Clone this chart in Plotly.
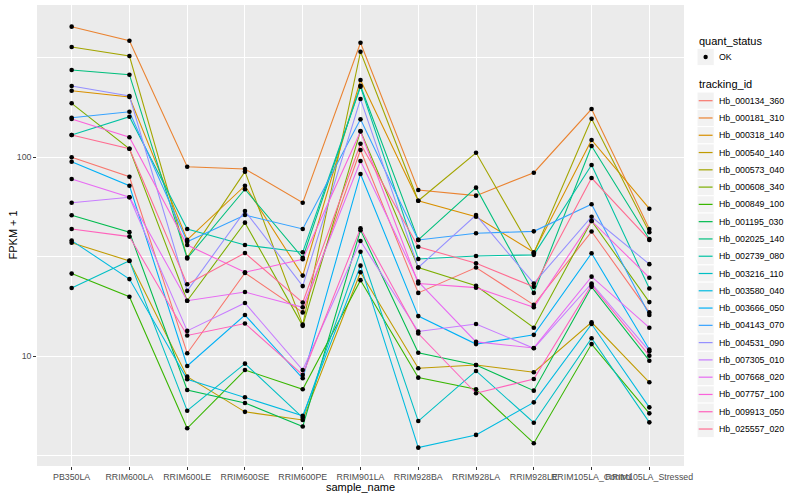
import plotly.graph_objects as go

samples = ["PB350LA", "RRIM600LA", "RRIM600LE", "RRIM600SE", "RRIM600PE", "RRIM901LA",
           "RRIM928BA", "RRIM928LA", "RRIM928LE", "RRIM105LA_Control", "RRIM105LA_Stressed"]

tracking_ids = ["Hb_000134_360", "Hb_000181_310", "Hb_000318_140", "Hb_000540_140", "Hb_000573_040",
                "Hb_000608_340", "Hb_000849_100", "Hb_001195_030", "Hb_002025_140", "Hb_002739_080",
                "Hb_003216_110", "Hb_003580_040", "Hb_003666_050", "Hb_004143_070", "Hb_004531_090",
                "Hb_007305_010", "Hb_007668_020", "Hb_007757_100", "Hb_009913_050", "Hb_025557_020"]

hue_colors = ["#F8766D", "#EA8331", "#D89000", "#C09B00", "#A3A500", "#7CAE00", "#39B600", "#00BB4E",
              "#00BF7D", "#00C1A3", "#00BFC4", "#00BAE0", "#00B0F6", "#35A2FF", "#9590FF", "#C77CFF",
              "#E76BF3", "#FA62DB", "#FF62BC", "#FF6C91"]

# FPKM + 1 values, one list per tracking_id (order = samples)
hb_000134_360 = [100.0, 79.8, 10.35, 26.2, 16.6, 108.7, 20.8, 27.9, 18.1, 42.3, 16.6]
hb_000181_310 = [453, 385, 89.5, 87.3, 59.0, 376, 68.4, 64.1, 83.6, 174.6, 43.6]
hb_000318_140 = [215.8, 200.7, 38.4, 71.9, 25.4, 244.3, 60.4, 50.2, 33.3, 122.0, 55.1]
hb_000540_140 = [37.2, 30.1, 7.89, 5.25, 4.78, 26.4, 8.69, 9.03, 8.30, 14.8, 7.39]
hb_000573_040 = [358, 322.5, 31.3, 84.6, 14.4, 338.8, 60.4, 105.3, 32.9, 156.1, 42.0]
hb_000608_340 = [186.6, 110.3, 19.0, 46.9, 14.2, 135.5, 27.9, 22.6, 13.9, 47.8, 18.7]
hb_000849_100 = [26.0, 19.9, 4.34, 8.52, 6.82, 24.1, 7.80, 6.82, 3.65, 11.5, 5.16]
hb_001195_030 = [51.1, 42.0, 6.76, 5.82, 4.43, 43.0, 10.4, 9.03, 6.71, 22.3, 9.49]
hb_002025_140 = [274.2, 259.8, 31.0, 69.0, 31.2, 228.6, 38.4, 70.3, 20.8, 113.8, 38.8]
hb_002739_080 = [129.3, 159.8, 43.6, 36.2, 33.3, 226.0, 30.8, 31.9, 32.3, 91.4, 21.9]
hb_003216_110 = [22.0, 30.2, 5.32, 9.17, 4.91, 33.5, 4.72, 8.43, 4.63, 12.3, 4.65]
hb_003580_040 = [38.1, 24.4, 7.65, 6.22, 5.02, 28.5, 3.47, 4.02, 5.86, 14.5, 5.53]
hb_003666_050 = [94.9, 71.9, 8.93, 16.1, 7.74, 82.4, 15.9, 11.5, 12.8, 32.9, 10.8]
hb_004143_070 = [157.9, 169.3, 37.6, 51.2, 43.6, 155.0, 38.4, 41.5, 42.4, 58.0, 16.1]
hb_004531_090 = [227.9, 203.0, 21.3, 53.7, 22.5, 196.0, 27.9, 51.2, 23.2, 50.2, 29.0]
hb_007305_010 = [59.0, 62.9, 13.4, 18.5, 8.52, 37.9, 13.3, 14.5, 10.96, 23.2, 10.6]
hb_007668_020 = [77.7, 62.9, 19.0, 21.0, 17.6, 95.7, 23.7, 11.8, 11.0, 25.1, 13.9]
hb_007757_100 = [155.6, 125.9, 36.2, 26.4, 30.7, 134.6, 23.2, 22.1, 17.6, 47.8, 24.8]
hb_009913_050 = [43.6, 39.9, 12.7, 14.6, 8.05, 43.9, 13.0, 6.51, 7.68, 22.8, 10.06]
hb_025557_020 = [129.3, 110.3, 23.0, 33.0, 18.6, 116.9, 35.5, 29.3, 22.3, 78.6, 38.4]

series_values = [hb_000134_360, hb_000181_310, hb_000318_140, hb_000540_140, hb_000573_040,
                 hb_000608_340, hb_000849_100, hb_001195_030, hb_002025_140, hb_002739_080,
                 hb_003216_110, hb_003580_040, hb_003666_050, hb_004143_070, hb_004531_090,
                 hb_007305_010, hb_007668_020, hb_007757_100, hb_009913_050, hb_025557_020]

y_tick_vals = [10, 100]
y_tick_text = ["10", "100"]
y_minor_vals = [10 ** 0.5, 10 ** 1.5, 10 ** 2.5]

FONT = "Liberation Sans, Arial, Helvetica, sans-serif"

fig = go.Figure()
for name, col, vals in zip(tracking_ids, hue_colors, series_values):
    fig.add_trace(go.Scatter(x=samples, y=vals, mode="lines", name=name,
                             line=dict(color=col, width=1.07), showlegend=False))
for name, vals in zip(tracking_ids, series_values):
    fig.add_trace(go.Scatter(x=samples, y=vals, mode="markers", name=name,
                             marker=dict(color="black", size=4.6), showlegend=False))

# panel in pixels
PL, PR, PT, PB = 37, 684, 5, 466


def px(x):
    return (x - PL) / (PR - PL)


def py(y):
    return (PB - y) / (PB - PT)


shapes = []
annotations = []
KEY = 17.28
KX0 = 697


def key_box(cy):
    shapes.append(dict(type="rect", xref="paper", yref="paper",
                       x0=px(KX0), x1=px(KX0 + KEY), y0=py(cy + KEY / 2), y1=py(cy - KEY / 2),
                       fillcolor="#F2F2F2", line=dict(color="white", width=1)))


annotations.append(dict(x=px(KX0), y=py(40.7), xref="paper", yref="paper", text="quant_status",
                        showarrow=False, xanchor="left", yanchor="middle",
                        font=dict(size=11, color="black", family=FONT)))
ok_cy = 57.0
key_box(ok_cy)
shapes.append(dict(type="circle", xref="paper", yref="paper",
                   x0=px(KX0 + KEY / 2 - 2.2), x1=px(KX0 + KEY / 2 + 2.2),
                   y0=py(ok_cy + 2.2), y1=py(ok_cy - 2.2),
                   fillcolor="black", line=dict(color="black", width=0)))
annotations.append(dict(x=px(717), y=py(ok_cy), xref="paper", yref="paper", text="OK",
                        showarrow=False, xanchor="left", yanchor="middle",
                        font=dict(size=8.8, color="black", family=FONT)))

annotations.append(dict(x=px(KX0), y=py(84), xref="paper", yref="paper", text="tracking_id",
                        showarrow=False, xanchor="left", yanchor="middle",
                        font=dict(size=11, color="black", family=FONT)))
first_cy = 100.7
step = 17.28
for i, (name, col) in enumerate(zip(tracking_ids, hue_colors)):
    cy = first_cy + i * step
    key_box(cy)
    shapes.append(dict(type="line", xref="paper", yref="paper",
                       x0=px(KX0 + 1.7), x1=px(KX0 + KEY - 1.7), y0=py(cy), y1=py(cy),
                       line=dict(color=col, width=1.2)))
    annotations.append(dict(x=px(717), y=py(cy), xref="paper", yref="paper", text=name,
                            showarrow=False, xanchor="left", yanchor="middle",
                            font=dict(size=8.8, color="black", family=FONT)))

# axis titles
annotations.append(dict(x=px((PL + PR) / 2), y=py(487), xref="paper", yref="paper", text="sample_name",
                        showarrow=False, xanchor="center", yanchor="middle",
                        font=dict(size=11, color="black", family=FONT)))
annotations.append(dict(x=px(12), y=py((PT + PB) / 2), xref="paper", yref="paper", text="FPKM + 1",
                        showarrow=False, xanchor="center", yanchor="middle", textangle=-90,
                        font=dict(size=11, color="black", family=FONT)))

fig.update_layout(
    width=800, height=500, autosize=False,
    margin=dict(l=PL, r=800 - PR, t=PT, b=500 - PB, pad=0),
    paper_bgcolor="white", plot_bgcolor="#EBEBEB",
    font=dict(family=FONT, size=8.8, color="#4D4D4D"),
    showlegend=False,
    shapes=shapes, annotations=annotations,
    xaxis=dict(type="category", categoryorder="array", categoryarray=samples,
               range=[-0.6, 10.6], showgrid=True, gridcolor="white", gridwidth=1.07,
               ticks="outside", ticklen=2.75, tickwidth=1.07, tickcolor="#333333",
               tickangle=0, tickfont=dict(size=8.8, color="#4D4D4D", family=FONT),
               showline=False, zeroline=False, fixedrange=True, automargin=False),
    yaxis=dict(type="log", range=[0.448, 2.765], tickmode="array",
               tickvals=y_tick_vals, ticktext=y_tick_text,
               showgrid=True, gridcolor="white", gridwidth=1.07,
               ticks="outside", ticklen=2.75, tickwidth=1.07, tickcolor="#333333",
               tickfont=dict(size=8.8, color="#4D4D4D", family=FONT),
               minor=dict(tickmode="array", tickvals=y_minor_vals, showgrid=True,
                          gridcolor="white", gridwidth=0.53, ticks=""),
               showline=False, zeroline=False, fixedrange=True, automargin=False),
)

fig.write_html("out.html", config={"displayModeBar": False},
               post_script="document.body.style.margin='0';document.body.style.overflow='hidden';")
